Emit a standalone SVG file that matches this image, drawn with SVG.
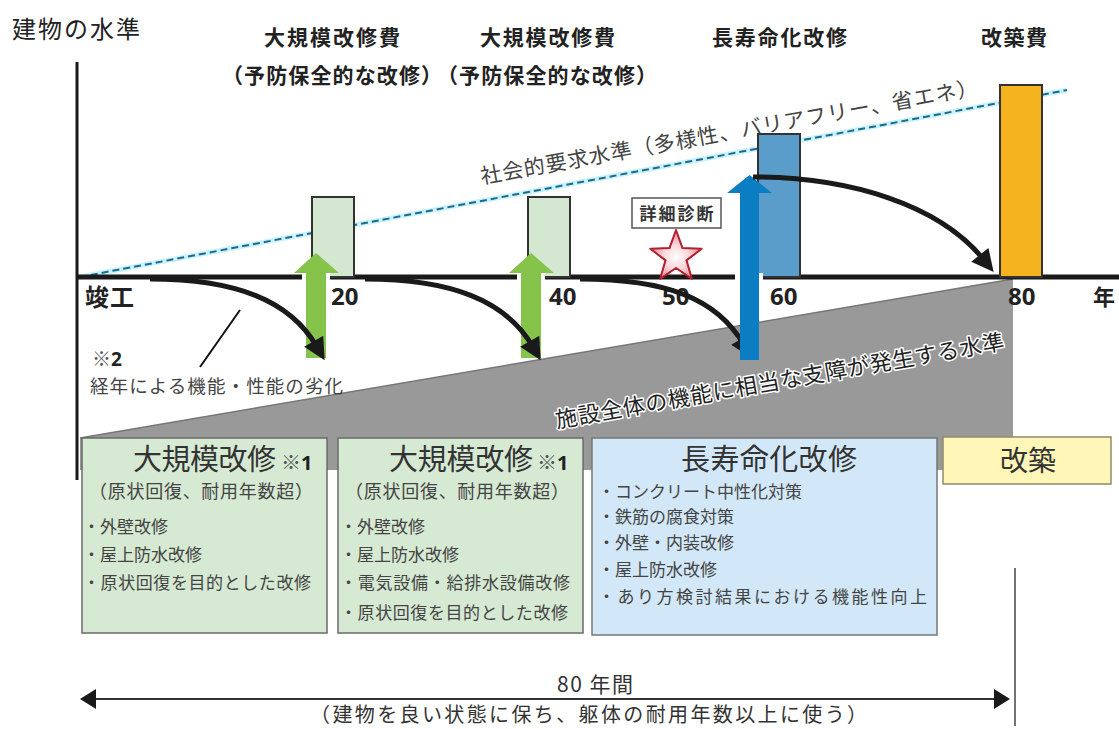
<svg xmlns="http://www.w3.org/2000/svg" width="1119" height="729" viewBox="0 0 1119 729">
<defs>
<style>
text{font-family:"Noto Sans CJK JP","Noto Sans",sans-serif;}
.ttl{font-size:24px;fill:#222;}
.top{font-size:21px;font-weight:bold;fill:#222;}
.num{font-family:"Open Sans","Noto Sans CJK JP",sans-serif;font-size:24px;font-weight:bold;fill:#222;}
.big{font-size:29px;fill:#333;}
.sub{font-size:18px;fill:#444;}
.itm{font-size:17px;fill:#444;}
.ast{font-size:20px;fill:#555;}
.astb{font-family:"Open Sans",sans-serif;font-weight:bold;fill:#222;}
.curve{fill:none;stroke:#1a1a1a;stroke-width:5;marker-end:url(#ah);}
.sbox{stroke:#333;stroke-width:2;}
.gbox{fill:#d6e9d3;stroke:#6a6a6a;stroke-width:1.5;}
.gap{fill:#fff;}
</style>
<marker id="ah" viewBox="0 0 10 10" refX="3" refY="5" markerUnits="userSpaceOnUse" markerWidth="24" markerHeight="22" orient="auto">
<path d="M0,0 L10,5 L0,10 z" fill="#1a1a1a"/>
</marker>
<radialGradient id="starg" cx="0.5" cy="0.55" r="0.5">
<stop offset="0" stop-color="#ffffff"/>
<stop offset="0.5" stop-color="#fbd6da"/>
<stop offset="1" stop-color="#ee8f9a"/>
</radialGradient>
</defs>
<rect width="1119" height="729" fill="#fff"/>

<!-- gray deterioration area -->
<g id="deterioration">
<polygon points="80,438 1013,279 1013,470 80,470" fill="#999"/>
<line x1="80" y1="438" x2="1013" y2="279" stroke="#777" stroke-width="1.5"/>
<text x="557" y="428" transform="rotate(-10 557 428)" font-size="22" textLength="455" fill="#222" stroke="#fff" stroke-width="3" paint-order="stroke" stroke-linejoin="round">施設全体の機能に相当な支障が発生する水準</text>
</g>

<!-- social requirement level -->
<g id="social-level">
<line x1="80" y1="277" x2="1067" y2="90" stroke="#c8f2ff" stroke-width="5"/>
<line x1="80" y1="277" x2="1067" y2="90" stroke="#1f6b86" stroke-width="2" stroke-dasharray="7,4"/>
<text x="482" y="184" transform="rotate(-10.2 482 184)" font-size="21" textLength="505" fill="#444">社会的要求水準（多様性、バリアフリー、省エネ）</text>
</g>

<!-- axes -->
<g id="axes">
<line x1="77" y1="62" x2="77" y2="480" stroke="#1a1a1a" stroke-width="3"/>
<line x1="77" y1="277" x2="1119" y2="277" stroke="#1a1a1a" stroke-width="5"/>
<text class="ttl" x="12" y="38" textLength="128">建物の水準</text>
<text x="85" y="306" font-size="24" font-weight="bold" fill="#222" textLength="49">竣工</text>
<text class="num" x="331" y="305">20</text>
<text class="num" x="549" y="305">40</text>
<text class="num" x="662" y="305">50</text>
<text class="num" x="770" y="305">60</text>
<text class="num" x="1008" y="305">80</text>
<text x="1093" y="305" font-size="22" font-weight="bold" fill="#222">年</text>
</g>

<!-- cost bars -->
<g id="bar-major1"><rect class="sbox" x="312" y="197" width="42" height="80" fill="#d4e7d1"/></g>
<g id="bar-major2"><rect class="sbox" x="528" y="197" width="42" height="80" fill="#d4e7d1"/></g>
<g id="bar-longlife"><rect class="sbox" x="758" y="134" width="42" height="143" fill="#5b9dca"/></g>
<g id="bar-rebuild"><rect class="sbox" x="1000" y="85" width="42" height="192" fill="#f6b320"/></g>

<!-- top labels -->
<g id="labels-top">
<text class="top" x="264" y="45" textLength="136">大規模改修費</text>
<text class="top" x="222" y="83" textLength="220">（予防保全的な改修）</text>
<text class="top" x="480" y="45" textLength="135">大規模改修費</text>
<text class="top" x="437" y="83" textLength="220">（予防保全的な改修）</text>
<text class="top" x="712" y="45" textLength="135">長寿命化改修</text>
<text class="top" x="981" y="45" textLength="66">改築費</text>
</g>

<!-- connectors -->
<g id="connectors">
<rect class="gap" x="302" y="273" width="28" height="9"/>
<polygon points="306,358 306,273 294,273 316,253 339,273 326,273 326,358" fill="#86c34a"/>
<rect class="gap" x="517" y="273" width="28" height="9"/>
<polygon points="521,358 521,273 509,273 531,253 554,273 541,273 541,358" fill="#86c34a"/>
<path class="curve" d="M150 279 C235 279 290 300 317 347"/>
<path class="curve" d="M365 279 C450 279 506 300 533 347"/>
<path class="curve" d="M580 279 C665 279 717 298 744 345"/>
<rect class="gap" x="735" y="273" width="28" height="9"/>
<polygon points="740,360 740,193 727,193 749.5,175 772,193 759,193 759,360" fill="#0b7dc2"/>
<path class="curve" d="M753 177 C850 177 940 205 984 260"/>
<line x1="240" y1="310" x2="200" y2="367" stroke="#111" stroke-width="2"/>
</g>

<!-- detailed diagnosis -->
<g id="diagnosis">
<rect x="632" y="198" width="89" height="30" fill="#fff" stroke="#555" stroke-width="1.5"/>
<text x="676.5" y="220" text-anchor="middle" font-size="17" font-weight="bold" fill="#333" textLength="74">詳細診断</text>
<polygon points="676,230 682.5,248.1 701.7,248.7 686.5,260.4 691.9,278.8 676,268 660.1,278.8 665.5,260.4 650.3,248.7 669.5,248.1" fill="url(#starg)" stroke="#b21f2d" stroke-width="2" stroke-linejoin="round"/>
</g>

<!-- deterioration note -->
<g id="note2">
<text x="92" y="366" font-size="19"><tspan fill="#555">※</tspan><tspan class="astb">2</tspan></text>
<text x="90" y="393" font-size="18.5" fill="#444" textLength="253">経年による機能・性能の劣化</text>
</g>

<!-- bottom boxes -->
<g id="box-major1">
<rect class="gbox" x="82" y="438" width="245" height="195"/>
<text class="big" x="133" y="470" textLength="143">大規模改修</text>
<text class="ast" x="281" y="470">※<tspan class="astb">1</tspan></text>
<text class="sub" x="89" y="498" textLength="224">（原状回復、耐用年数超）</text>
<text class="itm" x="83" y="533">・外壁改修</text>
<text class="itm" x="83" y="561">・屋上防水改修</text>
<text class="itm" x="83" y="589" textLength="228">・原状回復を目的とした改修</text>
</g>
<g id="box-major2">
<rect class="gbox" x="338" y="438" width="245" height="195"/>
<text class="big" x="389" y="470" textLength="144">大規模改修</text>
<text class="ast" x="537" y="470">※<tspan class="astb">1</tspan></text>
<text class="sub" x="345" y="498" textLength="224">（原状回復、耐用年数超）</text>
<text class="itm" x="340" y="533">・外壁改修</text>
<text class="itm" x="340" y="561">・屋上防水改修</text>
<text class="itm" x="340" y="589" textLength="230">・電気設備・給排水設備改修</text>
<text class="itm" x="340" y="619" textLength="228">・原状回復を目的とした改修</text>
</g>
<g id="box-longlife">
<rect x="592" y="438" width="345" height="197" fill="#d2e8f8" stroke="#777" stroke-width="1.5"/>
<text class="big" x="681" y="470" textLength="176">長寿命化改修</text>
<text class="itm" x="598" y="498">・コンクリート中性化対策</text>
<text class="itm" x="598" y="523">・鉄筋の腐食対策</text>
<text class="itm" x="598" y="549">・外壁・内装改修</text>
<text class="itm" x="598" y="576">・屋上防水改修</text>
<text class="itm" x="598" y="603" textLength="329">・あり方検討結果における機能性向上</text>
</g>
<g id="box-rebuild">
<rect x="943" y="437" width="168" height="47" fill="#fff6b8" stroke="#8d8a6a" stroke-width="1.5"/>
<text x="1028" y="471" text-anchor="middle" font-size="28" fill="#333">改築</text>
</g>

<!-- 80 years span -->
<g id="span80">
<line x1="1015" y1="568" x2="1015" y2="726" stroke="#444" stroke-width="1.5"/>
<line x1="92" y1="699" x2="998" y2="699" stroke="#333" stroke-width="2"/>
<polygon points="80,699 96,689 96,709" fill="#1a1a1a"/>
<polygon points="1010,699 994,689 994,709" fill="#1a1a1a"/>
<text x="557" y="692" font-size="21" fill="#333" textLength="76">80 年間</text>
<text x="310" y="722" font-size="20" fill="#333" textLength="557">（建物を良い状態に保ち、躯体の耐用年数以上に使う）</text>
</g>
</svg>
